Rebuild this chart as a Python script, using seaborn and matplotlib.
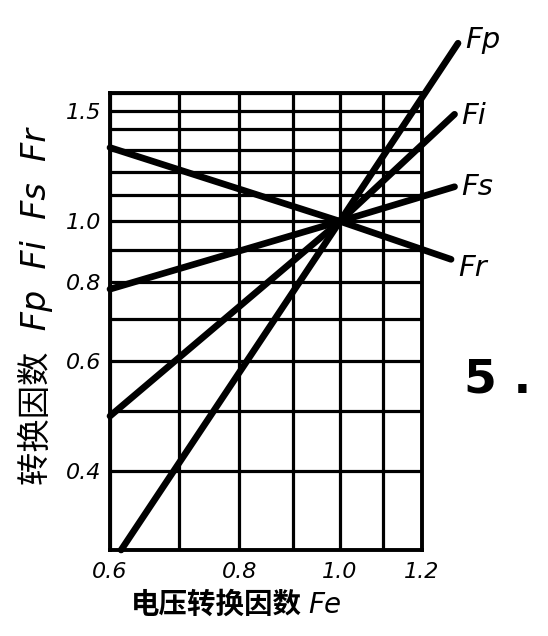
import numpy as np
import pandas as pd
import seaborn as sns
import matplotlib.pyplot as plt
from matplotlib.ticker import NullLocator

# values (log-log axes)
curves = ["Fp", "Fi", "Fs", "Fr"]
fe_p = [0.615, 1.0, 1.30]
fp = [0.30, 1.0, 1.92]
fe_i = [0.60, 1.0, 1.29]
fi = [0.49, 1.0, 1.48]
fe_s = [0.60, 1.0, 1.29]
fs = [0.78, 1.0, 1.135]
fe_r = [0.60, 1.0, 1.28]
fr = [1.31, 1.0, 0.87]

x_ticks = [0.6, 0.7, 0.8, 0.9, 1.0, 1.1, 1.2]
x_labels = ["0.6", "", "0.8", "", "1.0", "", "1.2"]
y_ticks = [0.3, 0.4, 0.5, 0.6, 0.7, 0.8, 0.9, 1.0, 1.1, 1.2, 1.3, 1.4,
           1.5, 1.6]
y_labels = ["", "0.4", "", "0.6", "", "0.8", "", "1.0", "", "", "", "",
            "1.5", ""]


def build_frame() -> pd.DataFrame:
    """Stacks the four curves into one long table for seaborn."""
    parts = []
    for name, xs, ys in zip(curves, [fe_p, fe_i, fe_s, fe_r],
                            [fp, fi, fs, fr]):
        parts.append(pd.DataFrame({"Fe": xs, "F": ys, "curve": name}))
    return pd.concat(parts, ignore_index=True)


def main():
    sns.set_style("white")
    plt.rcParams["font.family"] = ["DejaVu Sans", "Noto Sans CJK SC"]
    for key in ["text.color", "axes.labelcolor", "xtick.color",
                "ytick.color"]:
        plt.rcParams[key] = "black"

    df = build_frame()

    fig = plt.figure(figsize=(5.48, 6.36), dpi=100)
    ax = fig.add_axes([110 / 548, 1 - 550 / 636, 312 / 548, 457 / 636])
    ax.set_xscale("log")
    ax.set_yscale("log")

    sns.lineplot(data=df, x="Fe", y="F", hue="curve", units="curve",
                 estimator=None, sort=False, palette=["black"] * 4,
                 legend=False, linewidth=4.8, clip_on=False,
                 solid_capstyle="round", ax=ax, zorder=5)

    ax.set_xlim(0.6, 1.2)
    ax.set_ylim(0.3, 1.6)
    ax.set_xticks(x_ticks)
    ax.set_xticklabels(x_labels)
    ax.set_yticks(y_ticks)
    ax.set_yticklabels(y_labels)
    ax.xaxis.set_minor_locator(NullLocator())
    ax.yaxis.set_minor_locator(NullLocator())
    ax.tick_params(length=0, labelsize=16)
    ax.tick_params(axis="x", pad=9)
    ax.tick_params(axis="y", pad=6)
    for lab in ax.get_xticklabels() + ax.get_yticklabels():
        lab.set_fontstyle("italic")
    ax.grid(True, which="major", color="black", linewidth=2.3)
    for spine in ax.spines.values():
        spine.set_color("black")
        spine.set_linewidth(2.8)
    ax.set_xlabel("")
    ax.set_ylabel("")

    # curve names at the far ends
    ends = {"Fp": (fe_p[-1], fp[-1], 2), "Fi": (fe_i[-1], fi[-1], -1),
            "Fs": (fe_s[-1], fs[-1], 0), "Fr": (fe_r[-1], fr[-1], -6)}
    for name in curves:
        x, y, dy = ends[name]
        ax.annotate(name, xy=(x, y), xytext=(5, dy),
                    textcoords="offset points", va="center", ha="left",
                    fontsize=21, fontstyle="italic", annotation_clip=False)

    fig.text(302 / 548, 1 - 605 / 636, "电压转换因数", ha="right",
             va="center", fontsize=20.5, fontweight="heavy",
             family=["Noto Sans CJK SC", "DejaVu Sans"])
    fig.text(308 / 548, 1 - 605 / 636, "Fe", ha="left", va="center",
             fontsize=20, fontstyle="italic")
    fig.text(35 / 548, 1 - 307 / 636, "转换因数  Fp  Fi  Fs  Fr",
             rotation=90, ha="center", va="center", fontsize=24,
             fontstyle="italic", family=["DejaVu Sans", "Noto Sans CJK SC"])
    fig.text(498 / 548, 1 - 380 / 636, "5 .", ha="center", va="center",
             fontsize=34, fontweight="bold")

    fig.savefig("out.png", dpi=100)


if __name__ == "__main__":
    main()
